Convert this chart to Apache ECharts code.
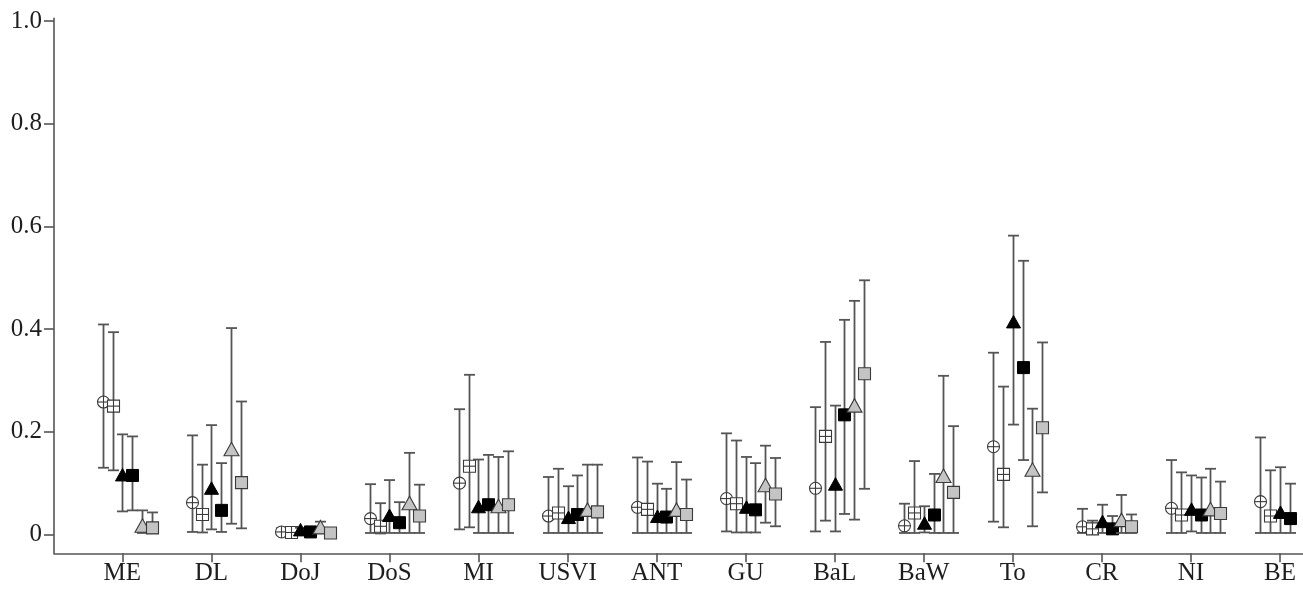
<!DOCTYPE html>
<html>
<head>
<meta charset="utf-8">
<script src="https://cdn.jsdelivr.net/npm/echarts@6/dist/echarts.min.js"></script>
<style>html,body{margin:0;padding:0;background:#fff}#c{width:1303px;height:590px}</style>
</head>
<body>
<div id="c"></div>
<script>
const categories = ['ME','DL','DoJ','DoS','MI','USVI','ANT','GU','BaL','BaW','To','CR','NI','BE'];
const yTicks = [0, 0.2, 0.4, 0.6, 0.8, 1.0];

// series A: open circle with plus
const aMean = [0.258,0.062,0.005,0.031,0.100,0.036,0.053,0.070,0.090,0.017,0.171,0.015,0.051,0.064];
const aHigh = [0.409,0.193,0.012,0.098,0.244,0.112,0.150,0.197,0.248,0.060,0.354,0.050,0.145,0.189];
const aLow  = [0.130,0.005,0.001,0.003,0.010,0.003,0.003,0.006,0.006,0.003,0.025,0.003,0.003,0.003];
// series B: open square with grid
const bMean = [0.250,0.039,0.004,0.016,0.133,0.042,0.049,0.060,0.191,0.042,0.117,0.011,0.038,0.036];
const bHigh = [0.394,0.136,0.012,0.061,0.311,0.128,0.142,0.183,0.375,0.143,0.288,0.027,0.121,0.125];
const bLow  = [0.125,0.004,0.001,0.002,0.014,0.003,0.003,0.004,0.027,0.003,0.014,0.002,0.003,0.003];
// series C: black triangle
const cMean = [0.115,0.089,0.008,0.036,0.053,0.032,0.034,0.052,0.097,0.021,0.413,0.024,0.048,0.042];
const cHigh = [0.195,0.213,0.013,0.106,0.146,0.094,0.099,0.151,0.251,0.055,0.582,0.058,0.115,0.131];
const cLow  = [0.045,0.010,0.002,0.003,0.003,0.003,0.003,0.004,0.006,0.004,0.214,0.003,0.006,0.003];
// series D: black square
const dMean = [0.115,0.047,0.005,0.023,0.058,0.039,0.034,0.048,0.233,0.038,0.325,0.011,0.038,0.031];
const dHigh = [0.191,0.139,0.009,0.063,0.155,0.115,0.089,0.139,0.418,0.118,0.533,0.036,0.111,0.099];
const dLow  = [0.047,0.005,0.001,0.003,0.003,0.003,0.003,0.004,0.040,0.003,0.145,0.002,0.003,0.003];
// series E: gray triangle (BE not visible)
const eMean = [0.016,0.165,0.013,0.060,0.054,0.047,0.047,0.095,0.250,0.113,0.125,0.027,0.048,null];
const eHigh = [0.047,0.402,0.025,0.159,0.151,0.136,0.141,0.173,0.455,0.309,0.245,0.077,0.128,null];
const eLow  = [0.003,0.021,0.003,0.003,0.003,0.003,0.003,0.023,0.029,0.003,0.016,0.003,0.003,null];
// series F: gray square (BE not visible)
const fMean = [0.013,0.101,0.003,0.036,0.058,0.044,0.039,0.079,0.313,0.082,0.208,0.015,0.041,null];
const fHigh = [0.043,0.259,0.007,0.097,0.162,0.136,0.107,0.149,0.495,0.211,0.374,0.039,0.103,null];
const fLow  = [0.003,0.012,0.001,0.003,0.003,0.003,0.003,0.016,0.089,0.003,0.082,0.003,0.003,null];

const seriesDefs = [
  {name:'A', mean:aMean, high:aHigh, low:aLow, shape:'circlePlus'},
  {name:'B', mean:bMean, high:bHigh, low:bLow, shape:'squareGrid'},
  {name:'C', mean:cMean, high:cHigh, low:cLow, shape:'triBlack'},
  {name:'D', mean:dMean, high:dHigh, low:dLow, shape:'sqBlack'},
  {name:'E', mean:eMean, high:eHigh, low:eLow, shape:'triGray'},
  {name:'F', mean:fMean, high:fHigh, low:fLow, shape:'sqGray'}
];

const BAR = '#555';
const EDGE = '#3a3a3a';
const GRAY = '#c4c4c4';

function markerShapes(shape, x, y) {
  const s = 6;
  switch (shape) {
    case 'circlePlus': return [
      {type:'circle', shape:{cx:x, cy:y, r:s}, style:{fill:'#fff', stroke:EDGE, lineWidth:1.1}},
      {type:'line', shape:{x1:x-s, y1:y, x2:x+s, y2:y}, style:{stroke:EDGE, lineWidth:1.1}},
      {type:'line', shape:{x1:x, y1:y-s, x2:x, y2:y+s}, style:{stroke:EDGE, lineWidth:1.1}}
    ];
    case 'squareGrid': return [
      {type:'rect', shape:{x:x-s, y:y-s, width:2*s, height:2*s}, style:{fill:'#fff', stroke:EDGE, lineWidth:1.1}},
      {type:'line', shape:{x1:x-s, y1:y, x2:x+s, y2:y}, style:{stroke:EDGE, lineWidth:1.1}},
      {type:'line', shape:{x1:x, y1:y-s, x2:x, y2:y+s}, style:{stroke:EDGE, lineWidth:1.1}}
    ];
    case 'triBlack': return [
      {type:'polygon', shape:{points:[[x, y-7],[x-7, y+5.5],[x+7, y+5.5]]}, style:{fill:'#000', stroke:'#000', lineWidth:1}}
    ];
    case 'sqBlack': return [
      {type:'rect', shape:{x:x-s, y:y-s, width:2*s, height:2*s}, style:{fill:'#000', stroke:'#000', lineWidth:1}}
    ];
    case 'triGray': return [
      {type:'polygon', shape:{points:[[x, y-7.5],[x-7.5, y+6],[x+7.5, y+6]]}, style:{fill:GRAY, stroke:EDGE, lineWidth:1.1}}
    ];
    case 'sqGray': return [
      {type:'rect', shape:{x:x-s, y:y-s, width:2*s, height:2*s}, style:{fill:GRAY, stroke:EDGE, lineWidth:1.1}}
    ];
  }
  return [];
}

const STEP = 0.11;
const series = seriesDefs.map((def, k) => {
  const off = (k - 2) * STEP;
  const data = [];
  categories.forEach((c, i) => {
    if (def.mean[i] == null) return;
    data.push([i, def.mean[i], def.low[i], def.high[i]]);
  });
  return {
    type: 'custom',
    name: def.name,
    data: data,
    encode: {x: 0, y: 1},
    z: 2 + k,
    renderItem: function (params, api) {
      const i = api.value(0);
      const p = api.coord([i + off, api.value(1)]);
      const pl = api.coord([i + off, api.value(2)]);
      const ph = api.coord([i + off, api.value(3)]);
      const x = Math.round(p[0]) + 0.5;
      const cw = 5.5;
      const bar = {stroke: BAR, lineWidth: 1.8};
      return {
        type: 'group',
        children: [
          {type:'line', shape:{x1:x, y1:pl[1], x2:x, y2:ph[1]}, style:bar},
          {type:'line', shape:{x1:x-cw, y1:ph[1], x2:x+cw, y2:ph[1]}, style:bar},
          {type:'line', shape:{x1:x-cw, y1:pl[1], x2:x+cw, y2:pl[1]}, style:bar}
        ].concat(markerShapes(def.shape, x, p[1]))
      };
    }
  };
});

const FONT = '"Liberation Serif", "Times New Roman", serif';
const chart = echarts.init(document.getElementById('c'), null, {renderer: 'canvas'});
chart.setOption({
  animation: false,
  backgroundColor: '#fff',
  grid: {left: 54, right: 0, top: 18.4, bottom: 36.7, containLabel: false},
  xAxis: {
    type: 'value',
    min: -0.767, max: 13.259,
    splitLine: {show: false},
    axisLine: {show: true, onZero: false, lineStyle: {color: '#555', width: 1.6}},
    axisTick: {show: true, length: 9, customValues: categories.map((c, i) => i), lineStyle: {color: '#555', width: 1.6}},
    axisLabel: {
      customValues: categories.map((c, i) => i),
      formatter: v => categories[Math.round(v)] || '',
      fontFamily: FONT, fontSize: 25, color: '#1e1e1e', margin: 8
    }
  },
  yAxis: {
    type: 'value',
    min: -0.0366, max: 1.005,
    splitLine: {show: false},
    axisLine: {show: true, onZero: false, lineStyle: {color: '#555', width: 1.6}},
    axisTick: {show: true, length: 10, customValues: yTicks, lineStyle: {color: '#555', width: 1.6}},
    axisLabel: {
      customValues: yTicks,
      formatter: v => v === 0 ? '0' : v.toFixed(1),
      fontFamily: FONT, fontSize: 25, color: '#1e1e1e', margin: 12
    }
  },
  series: series
});
</script>
</body>
</html>
